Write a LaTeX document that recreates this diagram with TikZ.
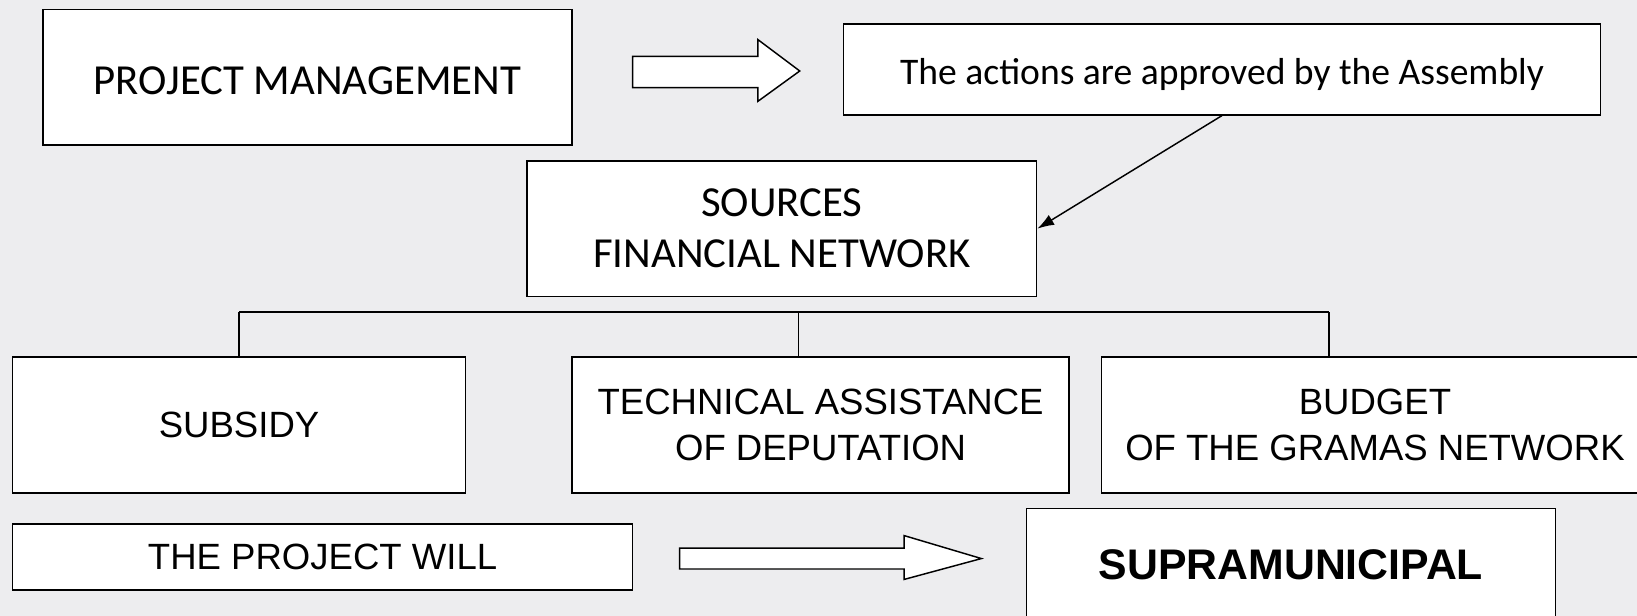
\documentclass[tikz,border=0pt]{standalone}
\usepackage{fontspec}
\newfontfamily\calibri{Carlito}
\newfontfamily\arial{Liberation Sans}
\usetikzlibrary{arrows.meta}
\definecolor{paper}{RGB}{237,237,239}

\begin{document}
\begin{tikzpicture}[x=1pt,y=-1pt,
  box/.style={draw,fill=white,line width=1.4pt,inner sep=0pt,align=center},
  toptext/.style={font=\calibri\fontsize{41}{49}\selectfont},
  lowtext/.style={font=\arial\fontsize{35}{44}\selectfont},
  blockarrow/.style={draw,fill=white,line width=1.4pt,line join=miter}]
\fill[paper] (0,0) rectangle (1568,590);
\useasboundingbox (0,0) rectangle (1568,590);

% upper part
\node[box,toptext,minimum width=507,minimum height=130,text height=32.5pt,text depth=0pt] (manage) at (294.5,74) {PROJECT MANAGEMENT};
\node[box,font=\calibri\fontsize{36}{43}\selectfont,minimum width=725,minimum height=87,text height=35pt,text depth=7pt] (assembly) at (1170.5,66.5) {The actions are approved by the Assembly};
\node[box,toptext,minimum width=488,minimum height=130] (sources) at (749,219) {SOURCES\\FINANCIAL NETWORK};

\draw[blockarrow] (606,54) -- (726,54) -- (726,38) -- (766,68) -- (726,97) -- (726,84) -- (606,84) -- cycle;
\draw[line width=1.4pt,-{Latex[length=16pt,width=11pt]}] (assembly.south) -- (sources.east);

% the three sources
\node[box,lowtext,minimum width=434,minimum height=130] (subsidy) at (229,407) {SUBSIDY};
\node[box,lowtext,minimum width=476,minimum height=130] (technical) at (786,407) {TECHNICAL ASSISTANCE\\OF DEPUTATION};
\node[box,lowtext,minimum width=524,minimum height=130] (budget) at (1317,407) {BUDGET\\OF THE GRAMAS NETWORK};

\coordinate (barL) at (229,299);
\coordinate (barM) at (765,299);
\coordinate (barR) at (1273,299);
\draw[line width=1.4pt] (barL) -- (barR);
\draw[line width=1.4pt] (barL) -- (subsidy.north);
\draw[line width=1.4pt] (barM) -- (barM |- technical.north);
\draw[line width=1.4pt] (barR) -- (barR |- budget.north);

% lower part
\node[box,lowtext,minimum width=594,minimum height=63] (will) at (309,533.5) {THE PROJECT WILL};
\node[box,font=\arial\bfseries\fontsize{41}{49}\selectfont,minimum width=507,minimum height=108] (supra) at (1236.5,541) {SUPRAMUNICIPAL};

\draw[blockarrow] (651,525) -- (866,525) -- (866,513) -- (940,535) -- (866,555) -- (866,545) -- (651,545) -- cycle;
\end{tikzpicture}
\end{document}
